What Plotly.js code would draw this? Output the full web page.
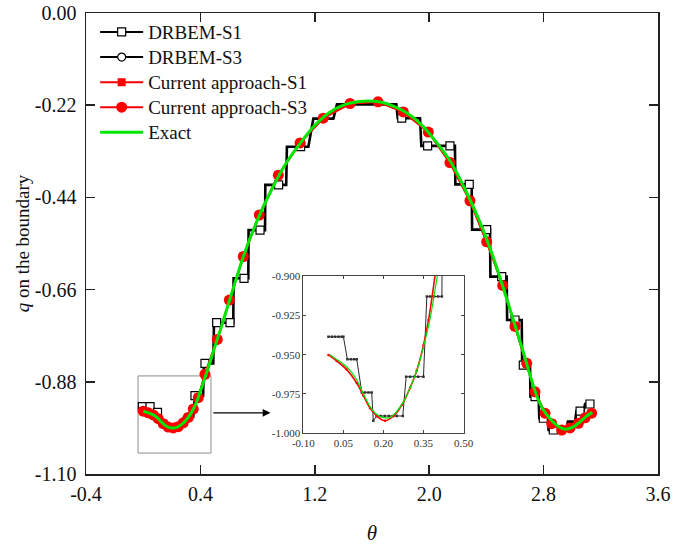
<!DOCTYPE html>
<html><head><meta charset="utf-8">
<script src="https://cdn.plot.ly/plotly-3.0.1.min.js"></script>
<style>html,body{margin:0;padding:0;background:#fff}#chart{width:686px;height:545px}</style>
</head><body><div id="chart"></div>
<script>
// ---------- data ----------
// Exact solution
const exactTheta = [0.000,0.025,0.050,0.075,0.100,0.125,0.150,0.175,0.200,0.225,0.250,0.275,0.300,0.325,0.350,0.375,0.400,0.450,0.500,0.550,0.600,0.700,0.800,0.900,1.000,1.100,1.200,1.300,1.400,1.500,1.570,1.650,1.750,1.850,1.950,2.050,2.150,2.250,2.350,2.450,2.550,2.600,2.650,2.700,2.750,2.800,2.850,2.900,2.950,3.000,3.050,3.100,3.140];
const exactQ = [-0.950,-0.953,-0.956,-0.960,-0.966,-0.975,-0.983,-0.988,-0.990,-0.990,-0.986,-0.980,-0.971,-0.960,-0.945,-0.927,-0.902,-0.852,-0.797,-0.745,-0.690,-0.581,-0.493,-0.420,-0.358,-0.310,-0.268,-0.238,-0.220,-0.212,-0.210,-0.212,-0.222,-0.240,-0.268,-0.308,-0.355,-0.420,-0.495,-0.585,-0.690,-0.745,-0.800,-0.858,-0.912,-0.948,-0.970,-0.986,-0.993,-0.989,-0.977,-0.962,-0.953];

// DRBEM piecewise-constant solution (staircase vertices)
const drbemStepTheta = [-0.006,0.050,0.065,0.100,0.119,0.160,0.160,0.175,0.270,0.285,0.350,0.362,0.419,0.425,0.490,0.495,0.630,0.632,0.735,0.737,0.852,0.854,1.000,1.005,1.155,1.190,1.330,1.355,1.770,1.780,1.936,1.945,2.180,2.183,2.297,2.300,2.425,2.428,2.542,2.545,2.647,2.650,2.705,2.708,2.765,2.770,2.830,2.835,2.960,2.970,3.020,3.030,3.080,3.090,3.140];
const drbemStepQ = [-0.939,-0.939,-0.953,-0.953,-0.974,-0.974,-0.992,-0.989,-0.989,-0.964,-0.964,-0.913,-0.913,-0.836,-0.836,-0.739,-0.739,-0.633,-0.633,-0.518,-0.518,-0.410,-0.410,-0.319,-0.319,-0.252,-0.252,-0.218,-0.218,-0.251,-0.251,-0.317,-0.317,-0.409,-0.409,-0.517,-0.517,-0.629,-0.629,-0.7325,-0.7325,-0.840,-0.840,-0.9155,-0.9155,-0.967,-0.967,-0.995,-0.995,-0.975,-0.975,-0.950,-0.950,-0.933,-0.933];

// DRBEM-S1 markers
const drbemS1Theta = [-0.006,0.048,0.100,0.362,0.432,0.514,0.607,0.705,0.817,0.947,1.101,1.808,1.989,2.145,2.280,2.402,2.507,2.600,2.658,2.740,2.798,2.868,3.055,3.124];
const drbemS1Q = [-0.939,-0.939,-0.953,-0.913,-0.836,-0.739,-0.739,-0.633,-0.518,-0.410,-0.319,-0.251,-0.317,-0.317,-0.409,-0.517,-0.629,-0.7325,-0.840,-0.9155,-0.967,-0.995,-0.950,-0.933];

// DRBEM-S3 markers (hidden under the current-approach circles)
const drbemS3Theta = [0.000,0.070,0.140,0.210,0.280,0.350,0.432,0.518,0.602,0.700,0.812,0.945,1.097,1.259,1.446,1.642,1.819,1.994,2.145,2.285,2.402,2.514,2.600,2.682,2.740,2.810,2.857,2.927,2.985,3.043,3.090,3.136];
const drbemS3Q = [-0.950,-0.959,-0.980,-0.990,-0.978,-0.945,-0.862,-0.779,-0.685,-0.581,-0.482,-0.387,-0.310,-0.251,-0.216,-0.212,-0.236,-0.284,-0.357,-0.448,-0.546,-0.650,-0.748,-0.836,-0.904,-0.955,-0.980,-0.995,-0.990,-0.979,-0.966,-0.955];

// Current approach-S1
const caS1Theta = [0.000,0.035,0.070,0.105,0.140,0.175,0.210,0.245,0.280,0.315,0.350,0.385,0.432,0.518,0.602,0.700,0.812,0.945,1.097,1.259,1.446,1.642,1.819,1.994,2.145,2.285,2.402,2.514,2.600,2.682,2.740,2.810,2.857,2.927,2.985,3.043,3.090,3.136];
const caS1Q = [-0.950,-0.954,-0.959,-0.968,-0.980,-0.988,-0.990,-0.987,-0.978,-0.965,-0.945,-0.918,-0.862,-0.779,-0.685,-0.581,-0.482,-0.387,-0.310,-0.251,-0.216,-0.212,-0.236,-0.284,-0.357,-0.448,-0.546,-0.650,-0.748,-0.836,-0.904,-0.955,-0.980,-0.995,-0.990,-0.979,-0.966,-0.955];

// Current approach-S3
const caS3Theta = [0.000,0.035,0.070,0.105,0.140,0.175,0.210,0.245,0.280,0.315,0.350,0.385,0.432,0.518,0.602,0.700,0.812,0.945,1.097,1.259,1.446,1.642,1.819,1.994,2.145,2.285,2.402,2.514,2.600,2.682,2.740,2.810,2.857,2.927,2.985,3.043,3.090,3.136];
const caS3Q = [-0.950,-0.954,-0.959,-0.968,-0.980,-0.988,-0.990,-0.987,-0.978,-0.965,-0.945,-0.918,-0.862,-0.779,-0.685,-0.581,-0.482,-0.387,-0.310,-0.251,-0.216,-0.212,-0.236,-0.284,-0.357,-0.448,-0.546,-0.650,-0.748,-0.836,-0.904,-0.955,-0.980,-0.995,-0.990,-0.979,-0.966,-0.955];

// Inset (zoom of 0 < theta < 0.45)
const insetDrbemTheta = [-0.006,0.007,0.019,0.032,0.044,0.050,0.065,0.078,0.090,0.100,0.119,0.131,0.144,0.156,0.162,0.175,0.190,0.205,0.220,0.235,0.250,0.2725,0.285,0.300,0.315,0.330,0.350,0.3625,0.375,0.390,0.405,0.419,0.421];
const insetDrbemQ = [-0.9386,-0.9386,-0.9386,-0.9386,-0.9386,-0.9386,-0.953,-0.953,-0.953,-0.953,-0.974,-0.974,-0.974,-0.974,-0.992,-0.989,-0.989,-0.989,-0.989,-0.989,-0.989,-0.989,-0.964,-0.964,-0.964,-0.964,-0.964,-0.913,-0.913,-0.913,-0.913,-0.913,-0.85];
const insetCaTheta = [-0.006,0.025,0.0625,0.100,0.125,0.150,0.175,0.206,0.2375,0.269,0.300,0.325,0.350,0.369,0.394,0.410];
const insetCaQ = [-0.9502,-0.954,-0.9595,-0.968,-0.976,-0.984,-0.989,-0.992,-0.989,-0.982,-0.971,-0.960,-0.944,-0.928,-0.899,-0.880];

// Series names and tick labels
const seriesNames = ['DRBEM-S1','DRBEM-S3','Current approach-S1','Current approach-S3','Exact'];
const xTickVals = [-0.4,0.4,1.2,2.0,2.8,3.6];
const xTickText = ['-0.4','0.4','1.2','2.0','2.8','3.6'];
const yTickVals = [0,-0.22,-0.44,-0.66,-0.88,-1.10];
const yTickText = ['0.00','-0.22','-0.44','-0.66','-0.88','-1.10'];
const insetXTickVals = [-0.10,0.05,0.20,0.35,0.50];
const insetXTickText = ['-0.10','0.05','0.20','0.35','0.50'];
const insetYTickVals = [-0.900,-0.925,-0.950,-0.975,-1.000];
const insetYTickText = ['-0.900','-0.925','-0.950','-0.975','-1.000'];

// ---------- build ----------
function isolated(arr){ const out=[]; arr.forEach((v,i)=>{ if(i) out.push(null); out.push(v); }); return out; }
function legendName(s){ return '<span style="font-size:19px">' + s + '</span>'; }
const FONT = 'Liberation Serif, Times New Roman, serif';
const RED = '#ff0000', GREEN = '#00e600';

const traces = [
  {x: drbemStepTheta, y: drbemStepQ, mode:'lines', line:{color:'#000', width:2.6}, showlegend:false, hoverinfo:'skip'},
  {x: isolated(drbemS1Theta), y: isolated(drbemS1Q), mode:'lines+markers', name:legendName(seriesNames[0]), connectgaps:false,
   line:{color:'#000', width:2}, marker:{symbol:'square', size:8, color:'#fff', line:{color:'#000', width:1.2}}},
  {x: isolated(drbemS3Theta), y: isolated(drbemS3Q), mode:'lines+markers', name:legendName(seriesNames[1]), connectgaps:false,
   line:{color:'#000', width:2}, marker:{symbol:'circle', size:8, color:'#fff', line:{color:'#000', width:1.2}}},
  {x: caS1Theta, y: caS1Q, mode:'lines+markers', name:legendName(seriesNames[2]),
   line:{color:RED, width:2}, marker:{symbol:'square', size:8, color:RED}},
  {x: caS3Theta, y: caS3Q, mode:'lines+markers', name:legendName(seriesNames[3]),
   line:{color:RED, width:2}, marker:{symbol:'circle', size:11, color:RED}},
  {x: exactTheta, y: exactQ, mode:'lines', name:legendName(seriesNames[4]), line:{color:GREEN, width:3, shape:'spline', smoothing:0.6}},
  // inset
  {x: insetDrbemTheta, y: insetDrbemQ, xaxis:'x2', yaxis:'y2', mode:'lines+markers', showlegend:false,
   line:{color:'#111', width:0.9}, marker:{symbol:'square', size:2.5, color:'#333'}},
  {x: insetCaTheta, y: insetCaQ, xaxis:'x2', yaxis:'y2', mode:'lines+markers', showlegend:false,
   line:{color:RED, width:1.6, shape:'spline'}, marker:{symbol:'circle', size:2.5, color:RED}},
  {x: exactTheta, y: exactQ, xaxis:'x2', yaxis:'y2', mode:'lines', showlegend:false,
   line:{color:GREEN, width:1.2, shape:'spline', smoothing:0.6}}
];

const axisCommon = {showgrid:false, zeroline:false, showline:true, linecolor:'#222', linewidth:1.5,
  mirror:'ticks', ticks:'inside', ticklen:9, tickwidth:1.5, tickcolor:'#222',
  tickfont:{family:FONT, size:20, color:'#111'}};
const insetAxis = {showgrid:false, zeroline:false, showline:true, linecolor:'#444', linewidth:1,
  mirror:'ticks', ticks:'inside', ticklen:3, tickwidth:1, tickcolor:'#444',
  tickfont:{family:FONT, size:11, color:'#333'}};

const layout = {
  width:686, height:545,
  margin:{l:86, r:28, t:13, b:71},
  paper_bgcolor:'#fff', plot_bgcolor:'#fff',
  showlegend:true,
  legend:{x:0.016, y:0.997, xanchor:'left', yanchor:'top', bgcolor:'rgba(0,0,0,0)',
    font:{family:FONT, size:17, color:'#111'}, tracegroupgap:0, itemwidth:43},
  xaxis: Object.assign({}, axisCommon, {range:[-0.4,3.6], tickmode:'array', tickvals:xTickVals, ticktext:xTickText,
    ticklabelstandoff:1,
    title:{text:'<i>θ</i>', font:{family:FONT, size:21, color:'#111'}, standoff:25}}),
  yaxis: Object.assign({}, axisCommon, {range:[-1.10,0], tickmode:'array', tickvals:yTickVals, ticktext:yTickText,
    ticklabelstandoff:4,
    title:{text:'<i>q</i> on the boundary', font:{family:FONT, size:19, color:'#111'}, standoff:0}}),
  xaxis2: Object.assign({}, insetAxis, {domain:[0.380,0.660], anchor:'y2', range:[-0.10,0.50],
    tickmode:'array', tickvals:insetXTickVals, ticktext:insetXTickText}),
  yaxis2: Object.assign({}, insetAxis, {domain:[0.0883,0.4295], anchor:'x2', range:[-1.0,-0.9],
    tickmode:'array', tickvals:insetYTickVals, ticktext:insetYTickText}),
  shapes:[{type:'rect', xref:'x', yref:'y', x0:-0.036, x1:0.474, y0:-1.050, y1:-0.866,
    line:{color:'#8c8c8c', width:1}, layer:'below'}],
  annotations:[{xref:'x', yref:'y', axref:'x', ayref:'y', x:0.89, y:-0.954, ax:0.48, ay:-0.954,
    text:'', showarrow:true, arrowhead:2, arrowsize:1.3, arrowwidth:1.2, arrowcolor:'#000'}]
};

Plotly.newPlot('chart', traces, layout, {displayModeBar:false, staticPlot:true});
</script>
</body></html>
